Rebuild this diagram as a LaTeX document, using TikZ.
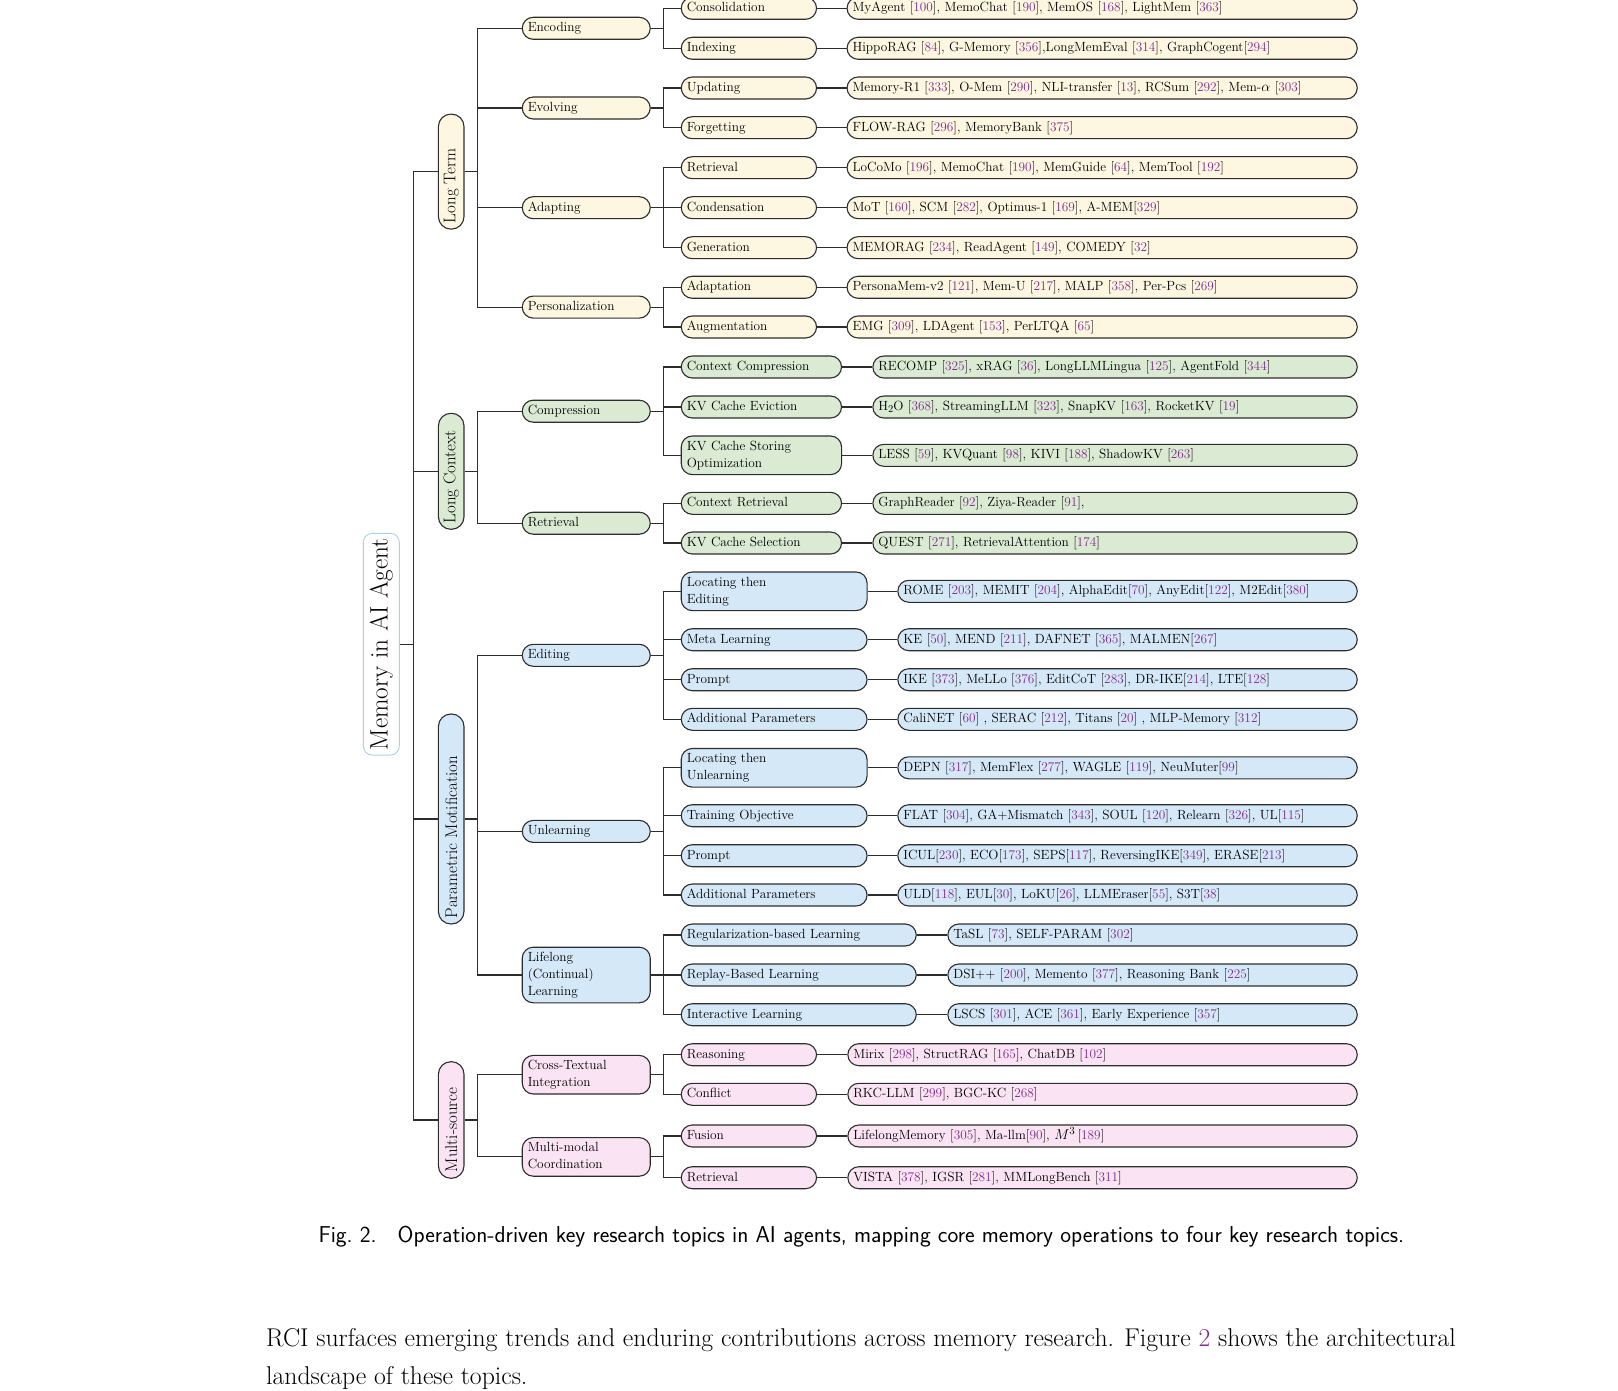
\documentclass[tikz,border=0pt]{standalone}
\usepackage{fontspec}
\usepackage{graphicx}
\usepackage{xcolor}
\definecolor{ltfill}{RGB}{253,246,225}
\definecolor{lcfill}{RGB}{218,234,211}
\definecolor{pmfill}{RGB}{213,232,248}
\definecolor{msfill}{RGB}{250,227,243}
\definecolor{rootc}{RGB}{168,210,232}
\definecolor{citec}{RGB}{128,42,140}
\definecolor{linec}{RGB}{45,45,45}
\newcommand{\ct}[1]{[\textcolor{citec}{#1}]}
\begin{document}
\begin{tikzpicture}[x=1pt,y=-1pt,
  bx/.style={draw=linec, line width=1.1pt, rounded corners=11pt, inner xsep=5.5pt, inner ysep=2.3pt,
    minimum height=22pt, align=left, anchor=west, font=\fontsize{13.3}{17}\selectfont,
    execute at begin node=\strut, execute at end node=\strut},
  lone/.style={draw=linec, line width=1.1pt, rounded corners=12.5pt, minimum width=25.6pt, inner sep=0pt,
    font=\fontsize{16.9}{20}\selectfont},
  conn/.style={draw=linec, line width=1.1pt},
  wtwo/.style={text width=117pt},
  wlt/.style={text width=124.3pt},
  wlc/.style={text width=149.3pt},
  wpm/.style={text width=174.8pt},
  wll/.style={text width=224pt},
  wms/.style={text width=124.3pt},
  flt/.style={text width=499.2pt},
  flc/.style={text width=473.4pt},
  fpm/.style={text width=448.4pt},
  fll/.style={text width=398.4pt},
  fms/.style={text width=498.4pt},
  LT/.style={fill=ltfill}, LC/.style={fill=lcfill}, PM/.style={fill=pmfill}, MS/.style={fill=msfill}
]
\useasboundingbox (0,0) rectangle (1618,1391);

% root
\node[draw=rootc, line width=0.9pt, rounded corners=9pt, minimum width=36pt, minimum height=221.7pt,
  inner sep=0pt, font=\fontsize{25.2}{28}\selectfont] (root) at (381.3,644.2) {\rotatebox{90}{Memory in AI Agent}};

% level 1
\node[lone, LT, minimum height=115pt] (lt) at (451.2,171.6) {\rotatebox{90}{\makebox[103pt][l]{Long Term}}};
\node[lone, LC, minimum height=116pt] (lc) at (451.2,471.3) {\rotatebox{90}{\makebox[104pt][l]{Long Context}}};
\node[lone, PM, minimum height=210pt] (pm) at (451.2,819) {\rotatebox{90}{\makebox[198pt][l]{Parametric Motification}}};
\node[lone, MS, minimum height=116.6pt] (ms) at (451.2,1120) {\rotatebox{90}{\makebox[104.6pt][l]{Multi-source}}};

% level 2
\node[bx, LT, wtwo] (enc) at (521.7,28.3) {Encoding};
\node[bx, LT, wtwo] (evo) at (521.7,108) {Evolving};
\node[bx, LT, wtwo] (ada) at (521.7,207.7) {Adapting};
\node[bx, LT, wtwo] (per) at (521.7,307.1) {Personalization};
\node[bx, LC, wtwo] (cmp) at (521.7,411.2) {Compression};
\node[bx, LC, wtwo] (ret) at (521.7,523.2) {Retrieval};
\node[bx, PM, wtwo] (edi) at (521.7,655.3) {Editing};
\node[bx, PM, wtwo] (unl) at (521.7,831.4) {Unlearning};
\node[bx, PM, wtwo] (lif) at (521.7,975) {Lifelong\\(Continual)\\Learning};
\node[bx, MS, wtwo] (ctx) at (521.7,1074.7) {Cross-Textual\\Integration};
\node[bx, MS, wtwo] (mmc) at (521.7,1156.9) {Multi-modal\\Coordination};

% level 3
\node[bx, LT, wlt] (a1) at (680.7,8.3) {Consolidation};
\node[bx, LT, wlt] (a2) at (680.7,48.3) {Indexing};
\node[bx, LT, wlt] (a3) at (680.7,88) {Updating};
\node[bx, LT, wlt] (a4) at (680.7,127.7) {Forgetting};
\node[bx, LT, wlt] (a5) at (680.7,167.7) {Retrieval};
\node[bx, LT, wlt] (a6) at (680.7,207.7) {Condensation};
\node[bx, LT, wlt] (a7) at (680.7,247.7) {Generation};
\node[bx, LT, wlt] (a8) at (680.7,287.3) {Adaptation};
\node[bx, LT, wlt] (a9) at (680.7,327) {Augmentation};
\node[bx, LC, wlc] (a10) at (680.7,367) {Context Compression};
\node[bx, LC, wlc] (a11) at (680.7,407) {KV Cache Eviction};
\node[bx, LC, wlc] (a12) at (680.7,455.3) {KV Cache Storing\\Optimization};
\node[bx, LC, wlc] (a13) at (680.7,503.3) {Context Retrieval};
\node[bx, LC, wlc] (a14) at (680.7,543) {KV Cache Selection};
\node[bx, PM, wpm] (a15) at (680.7,591.3) {Locating then\\Editing};
\node[bx, PM, wpm] (a16) at (680.7,639.7) {Meta Learning};
\node[bx, PM, wpm] (a17) at (680.7,679.7) {Prompt};
\node[bx, PM, wpm] (a18) at (680.7,719.3) {Additional Parameters};
\node[bx, PM, wpm] (a19) at (680.7,767.8) {Locating then\\Unlearning};
\node[bx, PM, wpm] (a20) at (680.7,815.7) {Training Objective};
\node[bx, PM, wpm] (a21) at (680.7,855.7) {Prompt};
\node[bx, PM, wpm] (a22) at (680.7,895) {Additional Parameters};
\node[bx, PM, wll] (a23) at (680.7,935) {Regularization-based Learning};
\node[bx, PM, wll] (a24) at (680.7,975) {Replay-Based Learning};
\node[bx, PM, wll] (a25) at (680.7,1014.7) {Interactive Learning};
\node[bx, MS, wms] (a26) at (680.7,1054.7) {Reasoning};
\node[bx, MS, wms] (a27) at (680.7,1094.3) {Conflict};
\node[bx, MS, wms] (a28) at (680.7,1136) {Fusion};
\node[bx, MS, wms] (a29) at (680.7,1177.7) {Retrieval};

% leaves
\node[bx, LT, flt] (b1) at (846.5,8.3) {MyAgent \ct{100}, MemoChat \ct{190}, MemOS \ct{168}, LightMem \ct{363}};
\node[bx, LT, flt] (b2) at (846.5,48.3) {HippoRAG \ct{84}, G-Memory \ct{356},LongMemEval \ct{314}, GraphCogent\ct{294}};
\node[bx, LT, flt] (b3) at (846.5,88) {Memory-R1 \ct{333}, O-Mem \ct{290}, NLI-transfer \ct{13}, RCSum \ct{292}, Mem-$\alpha$ \ct{303}};
\node[bx, LT, flt] (b4) at (846.5,127.7) {FLOW-RAG \ct{296}, MemoryBank \ct{375}};
\node[bx, LT, flt] (b5) at (846.5,167.7) {LoCoMo \ct{196}, MemoChat \ct{190}, MemGuide \ct{64}, MemTool \ct{192}};
\node[bx, LT, flt] (b6) at (846.5,207.7) {MoT \ct{160}, SCM \ct{282}, Optimus-1 \ct{169}, A-MEM\ct{329}};
\node[bx, LT, flt] (b7) at (846.5,247.7) {MEMORAG \ct{234}, ReadAgent \ct{149}, COMEDY \ct{32}};
\node[bx, LT, flt] (b8) at (846.5,287.3) {PersonaMem-v2 \ct{121}, Mem-U \ct{217}, MALP \ct{358}, Per-Pcs \ct{269}};
\node[bx, LT, flt] (b9) at (846.5,327) {EMG \ct{309}, LDAgent \ct{153}, PerLTQA \ct{65}};
\node[bx, LC, flc] (b10) at (872.3,367) {RECOMP \ct{325}, xRAG \ct{36}, LongLLMLingua \ct{125}, AgentFold \ct{344}};
\node[bx, LC, flc] (b11) at (872.3,407) {H\raisebox{-0.4ex}{\fontsize{10.5}{12}\selectfont 2}O \ct{368}, StreamingLLM \ct{323}, SnapKV \ct{163}, RocketKV \ct{19}};
\node[bx, LC, flc] (b12) at (872.3,455.3) {LESS \ct{59}, KVQuant \ct{98}, KIVI \ct{188}, ShadowKV \ct{263}};
\node[bx, LC, flc] (b13) at (872.3,503.3) {GraphReader \ct{92}, Ziya-Reader \ct{91},};
\node[bx, LC, flc] (b14) at (872.3,543) {QUEST \ct{271}, RetrievalAttention \ct{174}};
\node[bx, PM, fpm] (b15) at (897.3,591.3) {ROME \ct{203}, MEMIT \ct{204}, AlphaEdit\ct{70}, AnyEdit\ct{122}, M2Edit\ct{380}};
\node[bx, PM, fpm] (b16) at (897.3,639.7) {KE \ct{50}, MEND \ct{211}, DAFNET \ct{365}, MALMEN\ct{267}};
\node[bx, PM, fpm] (b17) at (897.3,679.7) {IKE \ct{373}, MeLLo \ct{376}, EditCoT \ct{283}, DR-IKE\ct{214}, LTE\ct{128}};
\node[bx, PM, fpm] (b18) at (897.3,719.3) {CaliNET \ct{60} , SERAC \ct{212}, Titans \ct{20} , MLP-Memory \ct{312}};
\node[bx, PM, fpm] (b19) at (897.3,767.8) {DEPN \ct{317}, MemFlex \ct{277}, WAGLE \ct{119}, NeuMuter\ct{99}};
\node[bx, PM, fpm] (b20) at (897.3,815.7) {FLAT \ct{304}, GA+Mismatch \ct{343}, SOUL \ct{120}, Relearn \ct{326}, UL\ct{115}};
\node[bx, PM, fpm] (b21) at (897.3,855.7) {ICUL\ct{230}, ECO\ct{173}, SEPS\ct{117}, ReversingIKE\ct{349}, ERASE\ct{213}};
\node[bx, PM, fpm] (b22) at (897.3,895) {ULD\ct{118}, EUL\ct{30}, LoKU\ct{26}, LLMEraser\ct{55}, S3T\ct{38}};
\node[bx, PM, fll] (b23) at (947.3,935) {TaSL \ct{73}, SELF-PARAM \ct{302}};
\node[bx, PM, fll] (b24) at (947.3,975) {DSI++ \ct{200}, Memento \ct{377}, Reasoning Bank \ct{225}};
\node[bx, PM, fll] (b25) at (947.3,1014.7) {LSCS \ct{301}, ACE \ct{361}, Early Experience \ct{357}};
\node[bx, MS, fms] (b26) at (847.3,1054.7) {Mirix \ct{298}, StructRAG \ct{165}, ChatDB \ct{102}};
\node[bx, MS, fms] (b27) at (847.3,1094.3) {RKC-LLM \ct{299}, BGC-KC \ct{268}};
\node[bx, MS, fms] (b28) at (847.3,1136) {LifelongMemory \ct{305}, Ma-llm\ct{90}, {\fontsize{15}{17}\selectfont$M^3$}\,\ct{189}};
\node[bx, MS, fms] (b29) at (847.3,1177.7) {VISTA \ct{378}, IGSR \ct{281}, MMLongBench \ct{311}};

% connectors root -> level 1
\foreach \c in {lt,lc,pm,ms} \draw[conn] (root.east) -- ++(13.4,0) |- (\c.west);
% level 1 -> level 2
\foreach \c in {enc,evo,ada,per} \draw[conn] (lt.east) -- ++(12.7,0) |- (\c.west);
\foreach \c in {cmp,ret} \draw[conn] (lc.east) -- ++(12.7,0) |- (\c.west);
\foreach \c in {edi,unl,lif} \draw[conn] (pm.east) -- ++(12.7,0) |- (\c.west);
\foreach \c in {ctx,mmc} \draw[conn] (ms.east) -- ++(12.7,0) |- (\c.west);
% level 2 -> level 3
\foreach \c in {a1,a2} \draw[conn] (enc.east) -- ++(12.7,0) |- (\c.west);
\foreach \c in {a3,a4} \draw[conn] (evo.east) -- ++(12.7,0) |- (\c.west);
\foreach \c in {a5,a6,a7} \draw[conn] (ada.east) -- ++(12.7,0) |- (\c.west);
\foreach \c in {a8,a9} \draw[conn] (per.east) -- ++(12.7,0) |- (\c.west);
\foreach \c in {a10,a11,a12} \draw[conn] (cmp.east) -- ++(12.7,0) |- (\c.west);
\foreach \c in {a13,a14} \draw[conn] (ret.east) -- ++(12.7,0) |- (\c.west);
\foreach \c in {a15,a16,a17,a18} \draw[conn] (edi.east) -- ++(12.7,0) |- (\c.west);
\foreach \c in {a19,a20,a21,a22} \draw[conn] (unl.east) -- ++(12.7,0) |- (\c.west);
\foreach \c in {a23,a24,a25} \draw[conn] (lif.east) -- ++(12.7,0) |- (\c.west);
\foreach \c in {a26,a27} \draw[conn] (ctx.east) -- ++(12.7,0) |- (\c.west);
\foreach \c in {a28,a29} \draw[conn] (mmc.east) -- ++(12.7,0) |- (\c.west);
% level 3 -> leaves
\foreach \i in {1,...,29} \draw[conn] (a\i.east) -- (b\i.west);

% caption and body text
\node[anchor=base west, inner sep=0pt, font=\sffamily\fontsize{22.95}{27}\selectfont] (cap) at (318.3,1242.7)
  {Fig.~2.\hspace{0.5em} Operation-driven key research topics in AI agents, mapping core memory operations to four key research topics.};
\node[anchor=base west, inner sep=0pt, font=\fontsize{25.7}{37}\selectfont] (body1) at (266,1346.7)
  {RCI surfaces emerging trends and enduring contributions across memory research. Figure \textcolor{citec}{2} shows the architectural};
\node[anchor=base west, inner sep=0pt, font=\fontsize{25.7}{37}\selectfont] (body2) at (266,1384)
  {landscape of these topics.};
\end{tikzpicture}
\end{document}
